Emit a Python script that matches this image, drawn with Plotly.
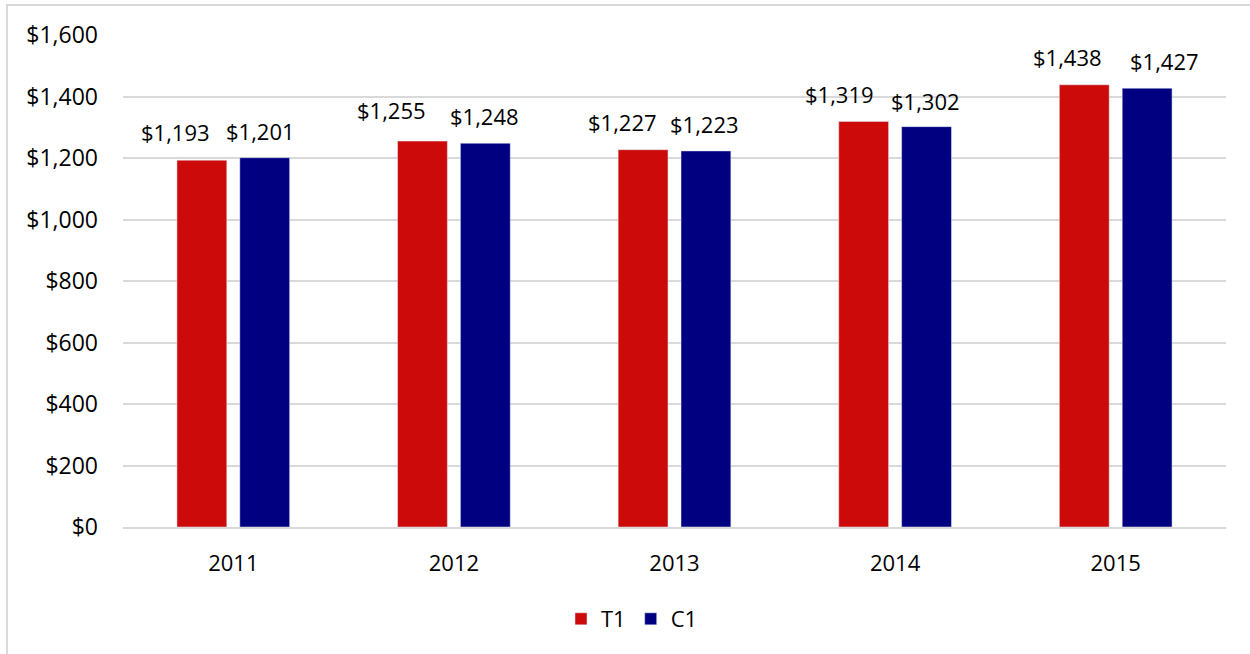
import plotly.graph_objects as go

years = ["2011", "2012", "2013", "2014", "2015"]
t1 = [1193, 1255, 1227, 1319, 1438]
c1 = [1201, 1248, 1223, 1302, 1427]

# label nudges (px) as placed in the original chart
t1_label_dx = [-26, -31, -21, -24, -17]
c1_label_dx = [-4, -1, -1, -1, 17]
t1_label_dy = [28, 31, 28, 27, 28]
c1_label_dy = [27, 27, 27, 26, 27]

FONT = "Open Sans"
W, H = 1250, 654
L, R, T, B = 123, 24, 35, 127
pw, ph = W - L - R, H - T - B

BAR_W = 0.226
GAP = 0.059
offs = {"T1": -BAR_W - GAP / 2, "C1": GAP / 2}

fig = go.Figure()
annots = []
for name, vals, col, dxs, dys in [("T1", t1, "#CC0A0A", t1_label_dx, t1_label_dy),
                                  ("C1", c1, "#000080", c1_label_dx, c1_label_dy)]:
    fig.add_trace(go.Bar(name=name, x=years, y=vals, marker_color=col,
                         width=BAR_W, offset=offs[name]))
    for i, v in enumerate(vals):
        annots.append(dict(x=i + offs[name] + BAR_W / 2, y=v, xref="x", yref="y",
                           text=f"${v:,}", showarrow=False, yanchor="middle",
                           xshift=dxs[i], yshift=dys[i],
                           font=dict(size=22, color="#000", family=FONT)))

def px_x(p):
    return (p - L) / pw

def px_y(p):
    return (H - B - p) / ph

fig.update_layout(
    width=W, height=H,
    margin=dict(l=L, r=R, t=T, b=B),
    plot_bgcolor="white", paper_bgcolor="white",
    barmode="overlay",
    font=dict(family=FONT, size=22, color="#000"),
    showlegend=True,
    legend=dict(orientation="h", x=px_x(632), xanchor="center", y=px_y(619), yanchor="middle",
                font=dict(size=22), itemwidth=30, traceorder="normal"),
    annotations=annots,
    shapes=[dict(type="rect", xref="paper", yref="paper",
                 x0=px_x(7), x1=px_x(1270), y0=px_y(680), y1=px_y(5),
                 line=dict(color="#D9D9D9", width=2), layer="below")],
)
fig.update_yaxes(range=[0, 1600], dtick=200, tickprefix="$", tickformat=",",
                 showgrid=True, gridcolor="#D9D9D9", gridwidth=1.5, zeroline=False,
                 showline=False, ticks="", ticklabelstandoff=24,
                 tickfont=dict(size=23))
fig.update_xaxes(showline=True, linecolor="#D9D9D9", linewidth=2, ticks="",
                 ticklabelstandoff=16, tickfont=dict(size=22), range=[-0.5, 4.5])

fig.write_html("out.html")
